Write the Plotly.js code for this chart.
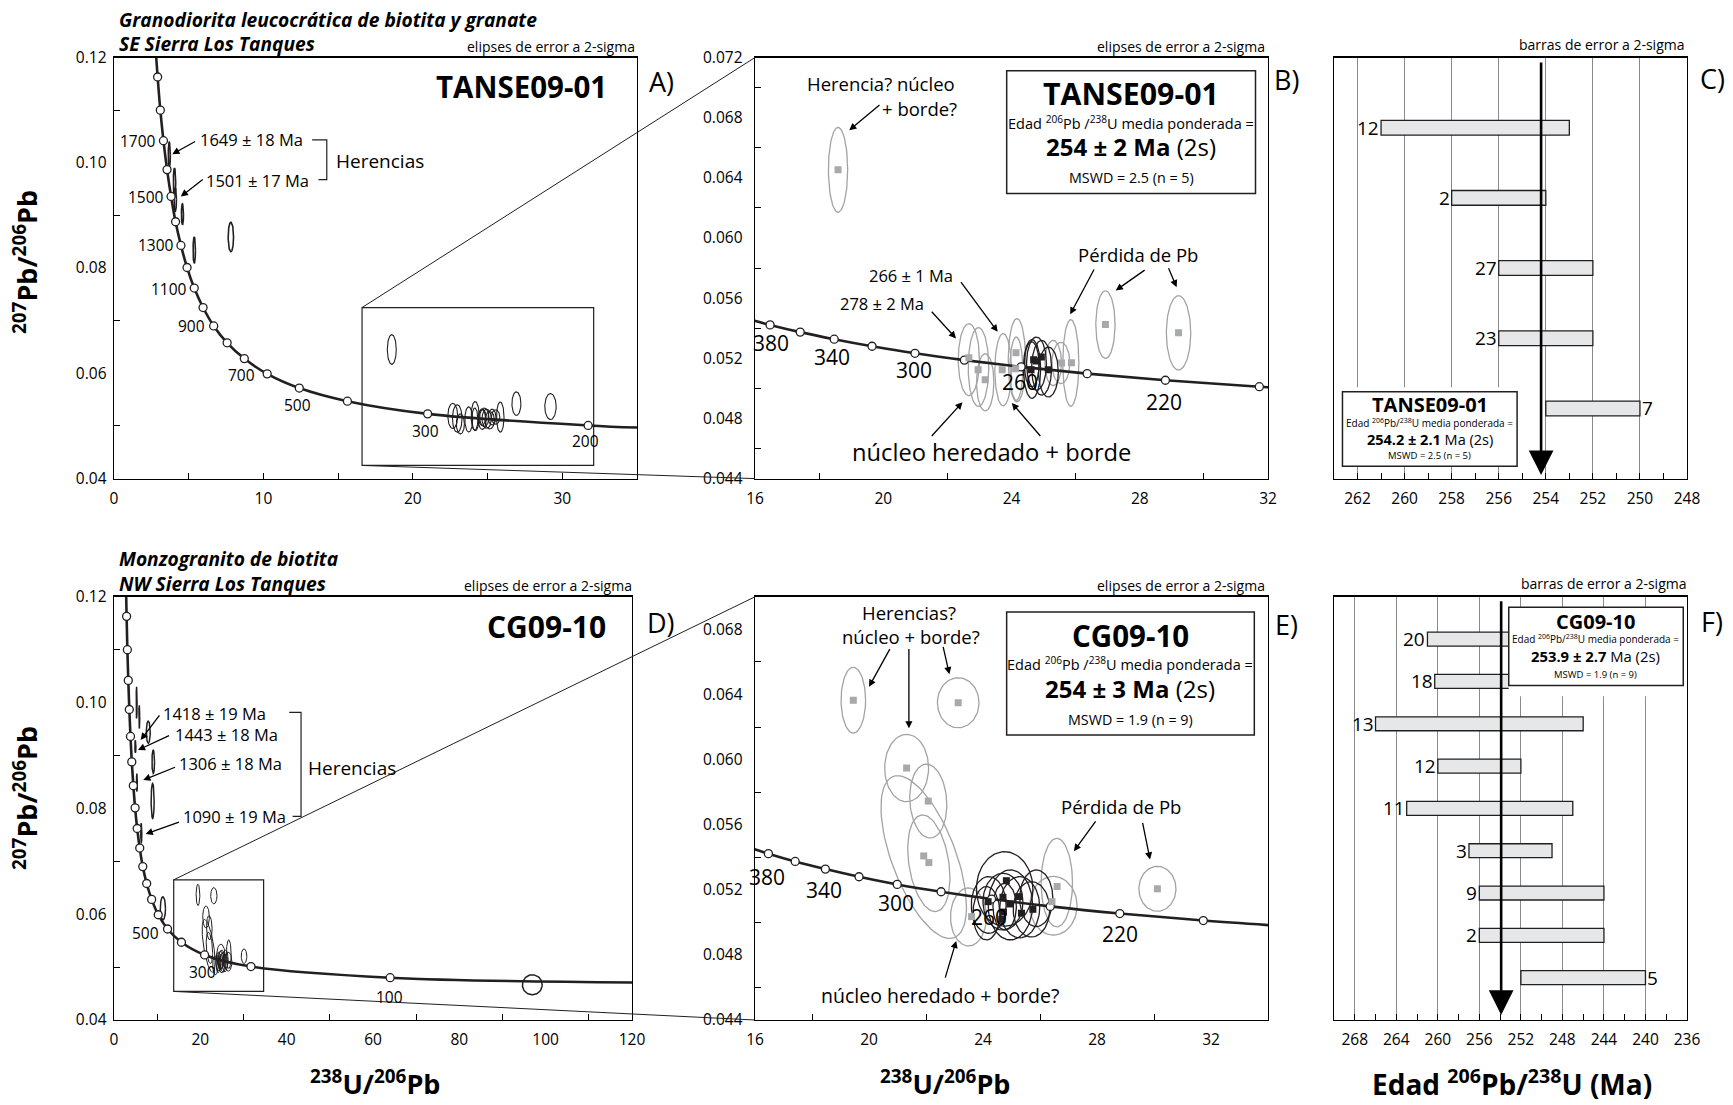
<!DOCTYPE html>
<html><head><meta charset="utf-8">
<script src="https://cdn.plot.ly/plotly-3.0.1.min.js"></script>
<style>html,body{margin:0;padding:0;background:#fff}#chart{width:1733px;height:1105px}</style>
</head><body><div id="chart"></div>
<script>
// ================= DATA =================
// Concordia age marks (Ma) for the full-range diagrams A and D
const concAges = [1900,1800,1700,1600,1500,1400,1300,1200,1100,1000,900,800,700,600,500,400,300,200];
const concX = [2.92,3.10,3.31,3.55,3.82,4.12,4.48,4.89,5.37,5.96,6.67,7.57,8.72,10.25,12.40,15.62,20.99,31.73];
const concY = [0.1163,0.1100,0.1042,0.0987,0.0936,0.0888,0.0843,0.0801,0.0762,0.0725,0.0690,0.0658,0.0628,0.0599,0.0572,0.0547,0.0523,0.0501];
const concTopStart = [2.75, 0.1230];
const concEndA = [35.0, 0.0497];
const conc100 = [63.97, 0.0480];
const concEndD = [120.0, 0.0471];
// Concordia age marks for the zoomed diagrams B and E
const zAges = [380,360,340,320,300,280,260,240,220,200];
const zX = [16.47,17.41,18.47,19.65,20.99,22.53,24.30,26.36,28.80,31.73];
const zY = [0.05422,0.05374,0.05327,0.05280,0.05233,0.05188,0.05143,0.05098,0.05054,0.05011];
const zStart = [15.62, 0.05470];
const zEnd = [35.32, 0.04968];

// TANSE09-01: error ellipses (centre, half-width, half-height, correlation)
const tGreyX  = [18.59,22.67,22.97,23.18,23.74,24.17,24.15,25.30,25.54,25.85,26.93,29.21];
const tGreyY  = [0.06453,0.05191,0.05142,0.05040,0.05124,0.05187,0.05131,0.05169,0.05169,0.05169,0.05424,0.05369];
const tGreySX = [0.30,0.33,0.32,0.27,0.26,0.27,0.20,0.26,0.28,0.25,0.30,0.38];
const tGreySY = [0.00282,0.00239,0.00262,0.00190,0.00240,0.00277,0.00210,0.00150,0.00137,0.00288,0.00225,0.00247];
const tGreyRho= [0,0,0,0,0,0,0,0,0,0,0,0];
const tSqGreyX = [18.59,22.67,22.96,23.18,23.71,24.14,24.13,25.56,25.87,26.93,29.21];
const tSqGreyY = [0.06453,0.05204,0.05124,0.05058,0.05124,0.05237,0.05131,0.05169,0.05171,0.05424,0.05369];
const tBlkX  = [24.64,24.78,24.94,25.15,24.63];
const tBlkY  = [0.05129,0.05164,0.05137,0.05109,0.05160];
const tBlkSX = [0.27,0.31,0.31,0.31,0.23];
const tBlkSY = [0.00195,0.00177,0.00182,0.00166,0.00150];
const tBlkRho= [0,0,0,0,0];
const tSqBlkX = [24.69,24.93,24.61,25.15,24.78];
const tSqBlkY = [0.05191,0.05209,0.05124,0.05124,0.05182];
// TANSE09-01 inherited grains (only in A)
const tInhX  = [3.70,4.05,4.10,4.58,5.37,7.82];
const tInhY  = [0.1015,0.0963,0.0930,0.0902,0.0834,0.0859];
const tInhSX = [0.07,0.08,0.08,0.07,0.08,0.18];
const tInhSY = [0.0024,0.0027,0.0022,0.0020,0.0025,0.0028];
const tInhRho= [0,0,0,0,0,0];

// CG09-10 ellipses (panel E, also in D)
const cGreyX  = [19.45,23.13,21.32,22.08,21.92,22.10,23.49,26.59,26.47,30.12];
const cGreyY  = [0.06365,0.06349,0.05948,0.05745,0.05401,0.05363,0.05033,0.05244,0.05102,0.05206];
const cGreySX = [0.43,0.73,0.77,0.65,1.50,0.74,0.63,0.55,0.83,0.65];
const cGreySY = [0.00202,0.00154,0.00207,0.00227,0.00500,0.00297,0.00178,0.00272,0.00180,0.00138];
const cGreyRho= [0,0,0,-0.1,-0.61,-0.3,0,0,0,0];
const cSqGreyX = [19.45,23.13,21.32,22.08,21.92,22.10,23.60,26.60,26.42,30.12];
const cSqGreyY = [0.06365,0.06349,0.05948,0.05745,0.05408,0.05367,0.05035,0.05220,0.05127,0.05206];
const cBlkX  = [24.76,24.20,24.96,24.70,25.29,25.70,24.76,24.12,25.87];
const cBlkY  = [0.05205,0.05107,0.05107,0.05127,0.05093,0.05080,0.05097,0.05056,0.05148];
const cBlkSX = [0.99,0.61,0.78,0.70,0.70,0.64,0.41,0.47,0.58];
const cBlkSY = [0.00229,0.00174,0.00215,0.00174,0.00188,0.00170,0.00143,0.00164,0.00174];
const cBlkRho= [0,0,0,0,0,0,0,0,0];
const cSqBlkX = [24.18,24.82,24.70,25.25,24.94,25.35,25.75,24.72,24.66];
const cSqBlkY = [0.05127,0.05256,0.05154,0.05158,0.05113,0.05056,0.05080,0.05063,0.05018];
// CG09-10 inherited grains and the young discordant grain (only in D)
const cInhX  = [5.24,5.86,7.94,4.95,9.09,5.30,8.95,6.32,11.33,96.9];
const cInhY  = [0.1000,0.0973,0.0944,0.0917,0.0888,0.0849,0.0814,0.0753,0.0611,0.04665];
const cInhSX = [0.10,0.10,0.45,0.12,0.30,0.10,0.35,0.12,0.60,2.29];
const cInhSY = [0.0030,0.0022,0.0021,0.0012,0.0022,0.0017,0.0033,0.0019,0.0022,0.00189];
const cInhRho= [0,0,0,0,0,0,0,0,0,0];

// Weighted-mean age bars (Ma, 2-sigma)
const cBarLabels = ['12','2','27','23','7'];
const cBarLow    = [253.0,254.0,252.0,252.0,250.0];
const cBarHigh   = [261.0,258.0,256.0,256.0,254.0];
const cMean = 254.2;
const fBarLabels = ['20','18','13','12','11','3','9','2','5'];
const fBarLow    = [252.0,252.3,246.0,252.0,247.0,249.0,244.0,244.0,240.0];
const fBarHigh   = [261.0,260.3,266.0,260.0,263.0,257.0,256.0,256.0,252.0];
const fMean = 253.9;

// Axis ranges and tick values
const rangeA = {x:[0,35], y:[0.04,0.12]};
const rangeB = {x:[16,32], y:[0.044,0.072]};
const rangeC = {x:[263,248], y:[0,6]};
const rangeD = {x:[0,120], y:[0.04,0.12]};
const rangeE = {x:[16,34], y:[0.044,0.070]};
const rangeF = {x:[270,236], y:[0,10]};
const ticksAx = [0,10,20,30], minorAx = [5,15,25];
const ticksAy = [0.04,0.06,0.08,0.10,0.12], minorAy = [0.05,0.07,0.09,0.11];
const ticksBx = [16,20,24,28,32], minorBx = [18,22,26,30];
const ticksBy = [0.044,0.048,0.052,0.056,0.060,0.064,0.068,0.072], minorBy = [0.046,0.050,0.054,0.058,0.062,0.066,0.070];
const ticksCx = [262,260,258,256,254,252,250,248], minorCx = [263,261,259,257,255,253,251,249];
const ticksDx = [0,20,40,60,80,100,120], minorDx = [10,30,50,70,90,110];
const ticksEx = [16,20,24,28,32], minorEx = [18,22,26,30];
const ticksEy = [0.044,0.048,0.052,0.056,0.060,0.064,0.068], minorEy = [0.046,0.050,0.054,0.058,0.062,0.066];
const ticksFx = [268,264,260,256,252,248,244,240,236], minorFx = [266,262,258,254,250,246,242,238];

// ================= DRAWING =================
const W = 1733, H = 1105;
const FONT = '"Open Sans", "Noto Sans", sans-serif';
const GREY = '#a3a3a3', SQGREY = '#a7a9ac', BLK = '#231f20';
const PX = v => v / W, PY = v => 1 - v / H;
const colX = {a:[114,637], b:[755,1268], c:[1334,1687], d:[114,632]};
const rowY = {top:[57.5,478.6], bot:[596.8,1020]};

function ellipses(cx, cy, sx, sy, rho, color, width, xa, ya) {
  const X = [], Y = [];
  for (let k = 0; k < cx.length; k++) {
    const s = Math.sqrt(1 - rho[k]*rho[k]);
    for (let i = 0; i <= 90; i++) {
      const t = 2*Math.PI*i/90;
      X.push(cx[k] + sx[k]*Math.cos(t));
      Y.push(cy[k] + sy[k]*(rho[k]*Math.cos(t) + s*Math.sin(t)));
    }
    X.push(null); Y.push(null);
  }
  return {type:'scatter', mode:'lines', x:X, y:Y, xaxis:xa, yaxis:ya, line:{color, width}, hoverinfo:'skip', showlegend:false, connectgaps:false};
}
function line(xs, ys, xa, ya) {
  return {type:'scatter', mode:'lines', x:xs, y:ys, xaxis:xa, yaxis:ya, line:{color:BLK, width:2.6, shape:'spline', smoothing:1}, hoverinfo:'skip', showlegend:false};
}
function circles(xs, ys, xa, ya) {
  return {type:'scatter', mode:'markers', x:xs, y:ys, xaxis:xa, yaxis:ya, marker:{symbol:'circle', size:8, color:'#fff', line:{color:BLK, width:1.3}}, hoverinfo:'skip', showlegend:false, cliponaxis:true};
}
function squares(xs, ys, color, xa, ya) {
  return {type:'scatter', mode:'markers', x:xs, y:ys, xaxis:xa, yaxis:ya, marker:{symbol:'square', size:7, color, line:{width:0}}, hoverinfo:'skip', showlegend:false};
}
function bars(low, high, n, width, xa, ya) {
  return {type:'bar', orientation:'h', base:low, x:high.map((h,i)=>h-low[i]), y:low.map((_,i)=>n-i), width:width,
          xaxis:xa, yaxis:ya, marker:{color:'#e6e7e8', line:{color:BLK, width:1.3}}, hoverinfo:'skip', showlegend:false};
}

const traces = [];
// ---- Panel A
traces.push(ellipses(tInhX,tInhY,tInhSX,tInhSY,tInhRho,BLK,1.6,'x','y'));
traces.push(ellipses(tGreyX,tGreyY,tGreySX,tGreySY,tGreyRho,BLK,1.1,'x','y'));
traces.push(ellipses(tBlkX,tBlkY,tBlkSX,tBlkSY,tBlkRho,BLK,1.1,'x','y'));
traces.push(line([concTopStart[0],...concX,concEndA[0]],[concTopStart[1],...concY,concEndA[1]],'x','y'));
traces.push(circles(concX,concY,'x','y'));
// ---- Panel B
traces.push(ellipses(tGreyX,tGreyY,tGreySX,tGreySY,tGreyRho,GREY,1.3,'x2','y2'));
traces.push(ellipses(tBlkX,tBlkY,tBlkSX,tBlkSY,tBlkRho,BLK,1.3,'x2','y2'));
traces.push(line([zStart[0],...zX,zEnd[0]],[zStart[1],...zY,zEnd[1]],'x2','y2'));
traces.push(circles(zX,zY,'x2','y2'));
traces.push(squares(tSqGreyX,tSqGreyY,SQGREY,'x2','y2'));
traces.push(squares(tSqBlkX,tSqBlkY,BLK,'x2','y2'));
// ---- Panel C
traces.push(bars(cBarLow,cBarHigh,cBarLow.length,0.21,'x3','y3'));
// ---- Panel D
traces.push(ellipses(cInhX,cInhY,cInhSX,cInhSY,cInhRho,BLK,1.5,'x4','y4'));
traces.push(ellipses(cGreyX,cGreyY,cGreySX,cGreySY,cGreyRho,BLK,1.0,'x4','y4'));
traces.push(ellipses(cBlkX,cBlkY,cBlkSX,cBlkSY,cBlkRho,BLK,1.0,'x4','y4'));
traces.push(line([concTopStart[0],...concX,conc100[0],concEndD[0]],[concTopStart[1],...concY,conc100[1],concEndD[1]],'x4','y4'));
traces.push(circles([...concX,conc100[0]],[...concY,conc100[1]],'x4','y4'));
// ---- Panel E
traces.push(ellipses(cGreyX,cGreyY,cGreySX,cGreySY,cGreyRho,GREY,1.3,'x5','y5'));
traces.push(ellipses(cBlkX,cBlkY,cBlkSX,cBlkSY,cBlkRho,BLK,1.3,'x5','y5'));
traces.push(line([zStart[0],...zX,zEnd[0]],[zStart[1],...zY,zEnd[1]],'x5','y5'));
traces.push(circles(zX,zY,'x5','y5'));
traces.push(squares(cSqGreyX,cSqGreyY,SQGREY,'x5','y5'));
traces.push(squares(cSqBlkX,cSqBlkY,BLK,'x5','y5'));
// ---- Panel F
traces.push(bars(fBarLow,fBarHigh,fBarLow.length,0.33,'x6','y6'));

// ---- axes
function ax(extra) {
  return Object.assign({showline:true, linecolor:'#000', linewidth:1.4, mirror:true, zeroline:false, showgrid:false,
    ticks:'inside', ticklen:6, tickwidth:1, tickcolor:'#000', layer:'above traces', fixedrange:true,
    tickfont:{family:FONT, size:15.5, color:'#000'}, tickmode:'array'}, extra);
}
function minor(vals){ return {tickmode:'array', tickvals:vals, ticks:'inside', ticklen:6, tickwidth:1, tickcolor:'#000', showgrid:false}; }
const dom = (p)=>[PX(p[0]),PX(p[1])];
const domY = (p)=>[PY(p[1]),PY(p[0])];

const layout = {
  width:W, height:H, margin:{l:0,r:0,t:0,b:0}, paper_bgcolor:'#fff', plot_bgcolor:'rgba(0,0,0,0)',
  showlegend:false, bargap:0,
  font:{family:FONT, color:'#000'},
  xaxis: ax({domain:dom(colX.a), range:rangeA.x, anchor:'y', tickvals:ticksAx, minor:minor(minorAx), ticklabelstandoff:5}),
  yaxis: ax({domain:domY(rowY.top), range:rangeA.y, anchor:'x', tickvals:ticksAy, tickformat:'.2f', minor:minor(minorAy), ticks:'', ticklabelstandoff:3}),
  xaxis2: ax({domain:dom(colX.b), range:rangeB.x, anchor:'y2', tickvals:ticksBx, minor:minor(minorBx), ticks:'', ticklabelstandoff:5}),
  yaxis2: ax({domain:domY(rowY.top), range:rangeB.y, anchor:'x2', tickvals:ticksBy, tickformat:'.3f', minor:minor(minorBy), ticks:'', ticklabelstandoff:8}),
  xaxis3: ax({domain:dom(colX.c), range:rangeC.x, anchor:'y3', tickvals:ticksCx, minor:minor(minorCx), showgrid:true, gridcolor:'#8a8a8a', gridwidth:1, ticklabelstandoff:5}),
  yaxis3: ax({domain:domY(rowY.top), range:rangeC.y, anchor:'x3', ticks:'', showticklabels:false}),
  xaxis4: ax({domain:dom(colX.d), range:rangeD.x, anchor:'y4', tickvals:ticksDx, minor:minor(minorDx), ticks:'', ticklabelstandoff:5}),
  yaxis4: ax({domain:domY(rowY.bot), range:rangeD.y, anchor:'x4', tickvals:ticksAy, tickformat:'.2f', minor:minor(minorAy), ticks:'', ticklabelstandoff:3}),
  xaxis5: ax({domain:dom(colX.b), range:rangeE.x, anchor:'y5', tickvals:ticksEx, minor:minor(minorEx), ticks:'', ticklabelstandoff:5}),
  yaxis5: ax({domain:domY(rowY.bot), range:rangeE.y, anchor:'x5', tickvals:ticksEy, tickformat:'.3f', minor:minor(minorEy), ticks:'', ticklabelstandoff:8}),
  xaxis6: ax({domain:dom(colX.c), range:rangeF.x, anchor:'y6', tickvals:ticksFx, minor:minor(minorFx), showgrid:true, gridcolor:'#8a8a8a', gridwidth:1, ticklabelstandoff:5}),
  yaxis6: ax({domain:domY(rowY.bot), range:rangeF.y, anchor:'x6', ticks:'', showticklabels:false}),
};

// data -> paper helper (same linear map the axes use)
function toPaper(xa, ya, x, y) {
  const X = layout[xa], Y = layout[ya];
  const fx = (x - X.range[0]) / (X.range[1] - X.range[0]);
  const fy = (y - Y.range[0]) / (Y.range[1] - Y.range[0]);
  return [X.domain[0] + fx*(X.domain[1]-X.domain[0]), Y.domain[0] + fy*(Y.domain[1]-Y.domain[0])];
}

// ---- annotations
const ann = [];
function T(xref, yref, x, y, text, size, o) {
  ann.push(Object.assign({xref, yref, x, y, text, showarrow:false, font:{family:FONT, size, color:'#000'}, xanchor:'center', yanchor:'middle', borderpad:0}, o||{}));
}
function AR(xref, yref, hx, hy, tx, ty, o) {
  ann.push(Object.assign({xref, yref, axref:xref, ayref:yref, x:hx, y:hy, ax:tx, ay:ty, text:'', showarrow:true,
    arrowhead:2, arrowsize:1.1, arrowwidth:1.3, arrowcolor:'#000', standoff:0}, o||{}));
}
function TP(px, py, text, size, o) { T('paper','paper',PX(px),PY(py),text,size,o); }

// sample titles
TP(118, 19, '<b><i>Granodiorita leucocrática de biotita y granate</i></b>', 19.2, {xanchor:'left'});
TP(118, 44, '<b><i>SE Sierra Los Tanques</i></b>', 19.2, {xanchor:'left'});
TP(118, 558, '<b><i>Monzogranito de biotita</i></b>', 19.2, {xanchor:'left'});
TP(118, 583, '<b><i>NW Sierra Los Tanques</i></b>', 19.2, {xanchor:'left'});
// error notes
TP(636, 47, 'elipses de error a 2-sigma', 14, {xanchor:'right'});
TP(1266, 47, 'elipses de error a 2-sigma', 14, {xanchor:'right'});
TP(1686, 45, 'barras de error a 2-sigma', 14, {xanchor:'right'});
TP(633, 585, 'elipses de error a 2-sigma', 14, {xanchor:'right'});
TP(1266, 585, 'elipses de error a 2-sigma', 14, {xanchor:'right'});
TP(1688, 583, 'barras de error a 2-sigma', 14, {xanchor:'right'});
// panel letters
TP(661, 82, 'A)', 27); TP(1286, 80, 'B)', 27); TP(1712, 79, 'C)', 27);
TP(661, 622, 'D)', 27); TP(1286, 624, 'E)', 27); TP(1712, 621, 'F)', 27);
// axis titles
TP(25, 262, '<b><sup>207</sup>Pb/<sup>206</sup>Pb</b>', 27, {textangle:-90});
TP(25, 798, '<b><sup>207</sup>Pb/<sup>206</sup>Pb</b>', 27, {textangle:-90});
TP(375, 1082, '<b><sup>238</sup>U/<sup>206</sup>Pb</b>', 27);
TP(945, 1082, '<b><sup>238</sup>U/<sup>206</sup>Pb</b>', 27);
TP(1512, 1082, '<b>Edad <sup>206</sup>Pb/<sup>238</sup>U (Ma)</b>', 28);

// ---- Panel A texts
T('x','y',33.06,0.1144,'<b>TANSE09-01</b>',29.5,{xanchor:'right'});
[['1700',1.60,0.1042],['1500',2.16,0.0935],['1300',2.78,0.0843],['1100',3.71,0.0760],['900',5.17,0.0690],
 ['700',8.54,0.0596],['500',12.28,0.0540],['300',20.84,0.0491],['200',31.52,0.0472]]
 .forEach(a=>T('x','y',a[1],a[2],a[0],15.5));
T('x','y',5.67,0.10434,'1649 ± 18 Ma',16.5,{xanchor:'left'});
T('x','y',6.10,0.0966,'1501 ± 17 Ma',16.5,{xanchor:'left'});
AR('x','y',3.90,0.10163,5.53,0.1042);
AR('x','y',4.47,0.09358,6.04,0.09704);
T('x','y',14.8,0.10025,'Herencias',19,{xanchor:'left'});
// ---- Panel B texts
T('x2','y2',19.92,0.07024,'Herencia? núcleo',18.5);
T('x2','y2',21.14,0.0686,'+ borde?',18.5);
AR('x2','y2',18.94,0.06716,19.93,0.06892);
T('x2','y2',27.73,0.06958,'<b>TANSE09-01</b>',30.3);
T('x2','y2',27.73,0.06771,'Edad <sup>206</sup>Pb /<sup>238</sup>U media ponderada =',14.5);
T('x2','y2',27.73,0.06607,'<b>254 ± 2 Ma</b> (2s)',24);
T('x2','y2',27.73,0.06404,'MSWD = 2.5 (n = 5)',14.3);
T('x2','y2',27.94,0.05892,'Pérdida de Pb',18.5);
AR('x2','y2',25.83,0.05492,26.60,0.05800);
AR('x2','y2',27.25,0.05651,28.20,0.05793);
AR('x2','y2',29.15,0.05673,28.88,0.05809);
T('x2','y2',20.88,0.0575,'266 ± 1 Ma',16.5);
AR('x2','y2',23.57,0.05376,22.39,0.05717);
T('x2','y2',19.95,0.05563,'278 ± 2 Ma',16.5);
AR('x2','y2',22.27,0.05332,21.47,0.05519);
T('x2','y2',23.39,0.04574,'núcleo heredado + borde',23.7);
AR('x2','y2',22.47,0.04908,21.47,0.04673);
AR('x2','y2',24.01,0.04903,24.94,0.04673);
[['380',16.51,0.0530],['340',18.41,0.0521],['300',20.96,0.0512],['260',24.26,0.0504],['220',28.76,0.0491]]
 .forEach(a=>T('x2','y2',a[1],a[2],a[0],21));
// ---- Panel C texts
cBarLabels.forEach((lab,i)=>{
  const yv = cBarLabels.length - i;
  if (i === cBarLabels.length-1) T('x3','y3',cBarLow[i],yv,lab,19,{xanchor:'left',xshift:1});
  else T('x3','y3',cBarHigh[i],yv,lab,19,{xanchor:'right',xshift:-1});
});
T('x3','y3',258.93,1.05,'<b>TANSE09-01</b>',20);
T('x3','y3',258.93,0.79,'Edad <sup>206</sup>Pb/<sup>238</sup>U media ponderada =',10);
T('x3','y3',258.93,0.555,'<b>254.2 ± 2.1</b> Ma (2s)',14.5);
T('x3','y3',258.93,0.33,'MSWD = 2.5 (n = 5)',9.5);
AR('x3','y3',cMean,0.05,cMean,5.95,{arrowwidth:2.6,arrowsize:1.9,arrowhead:2});
// ---- Panel D texts
T('x4','y4',114.3,0.1144,'<b>CG09-10</b>',30,{xanchor:'right'});
[['500',7.40,0.0565],['300',20.45,0.0490],['100',63.88,0.0444]].forEach(a=>T('x4','y4',a[1],a[2],a[0],15.5));
T('x4','y4',11.17,0.0980,'1418 ± 19 Ma',16.5,{xanchor:'left'});
T('x4','y4',13.87,0.0940,'1443 ± 18 Ma',16.5,{xanchor:'left'});
T('x4','y4',14.80,0.0885,'1306 ± 18 Ma',16.5,{xanchor:'left'});
T('x4','y4',15.65,0.0784,'1090 ± 19 Ma',16.5,{xanchor:'left'});
AR('x4','y4',6.17,0.09293,10.79,0.09785);
AR('x4','y4',5.55,0.09104,13.10,0.09388);
AR('x4','y4',6.78,0.08537,14.49,0.08789);
AR('x4','y4',7.33,0.07516,15.40,0.07749);
T('x4','y4',44.8,0.0877,'Herencias',19,{xanchor:'left'});
// ---- Panel E texts
T('x5','y5',21.40,0.06906,'Herencias?',18.5);
T('x5','y5',21.46,0.06757,'núcleo + borde?',18.5);
AR('x5','y5',20.00,0.06447,20.76,0.06688);
AR('x5','y5',21.40,0.06192,21.40,0.06688);
AR('x5','y5',22.82,0.06524,22.59,0.06702);
T('x5','y5',29.17,0.06763,'<b>CG09-10</b>',29.5);
T('x5','y5',29.17,0.06590,'Edad <sup>206</sup>Pb /<sup>238</sup>U media ponderada =',14.5);
T('x5','y5',29.17,0.06437,'<b>254 ± 3 Ma</b> (2s)',24);
T('x5','y5',29.17,0.06247,'MSWD = 1.9 (n = 9)',14.3);
T('x5','y5',28.83,0.05712,'Pérdida de Pb',18.5);
AR('x5','y5',27.19,0.05437,27.99,0.05630);
AR('x5','y5',29.86,0.05386,29.59,0.05620);
T('x5','y5',22.49,0.04549,'núcleo heredado + borde?',19.5);
AR('x5','y5',23.06,0.04886,22.66,0.04651);
[['380',16.43,0.0528],['340',18.42,0.0520],['300',20.96,0.0512],['260',24.22,0.0503],['220',28.79,0.0493]]
 .forEach(a=>T('x5','y5',a[1],a[2],a[0],21));
// ---- Panel F texts
fBarLabels.forEach((lab,i)=>{
  const yv = fBarLabels.length - i;
  if (i === fBarLabels.length-1) T('x6','y6',fBarLow[i],yv,lab,19,{xanchor:'left',xshift:1});
  else T('x6','y6',fBarHigh[i],yv,lab,19,{xanchor:'right',xshift:-1});
});
T('x6','y6',244.8,9.42,'<b>CG09-10</b>',20);
T('x6','y6',244.8,9.00,'Edad <sup>206</sup>Pb/<sup>238</sup>U media ponderada =',10);
T('x6','y6',244.8,8.60,'<b>253.9 ± 2.7</b> Ma (2s)',14.8);
T('x6','y6',244.8,8.17,'MSWD = 1.9 (n = 9)',9.5);
AR('x6','y6',fMean,0.12,fMean,9.93,{arrowwidth:2.6,arrowsize:1.9,arrowhead:2});

layout.annotations = ann;

// ---- shapes: inset frames, connectors, brackets, text boxes
const insetA = {x0:16.6, x1:32.1, y0:0.0425, y1:0.0725};
const insetD = {x0:13.83, x1:34.66, y0:0.0454, y1:0.0665};
const shapes = [];
shapes.push({type:'rect', xref:'x', yref:'y', x0:insetA.x0, x1:insetA.x1, y0:insetA.y0, y1:insetA.y1, line:{color:BLK,width:1.2}, layer:'above'});
shapes.push({type:'rect', xref:'x4', yref:'y4', x0:insetD.x0, x1:insetD.x1, y0:insetD.y0, y1:insetD.y1, line:{color:BLK,width:1.2}, layer:'above'});
function connector(a, b) {
  shapes.push({type:'line', xref:'paper', yref:'paper', x0:a[0], y0:a[1], x1:b[0], y1:b[1], line:{color:BLK,width:1}, layer:'above'});
}
connector(toPaper('xaxis','yaxis',insetA.x0,insetA.y1), toPaper('xaxis2','yaxis2',rangeB.x[0],rangeB.y[1]));
connector(toPaper('xaxis','yaxis',insetA.x0,insetA.y0), toPaper('xaxis2','yaxis2',rangeB.x[0],rangeB.y[0]));
connector(toPaper('xaxis4','yaxis4',insetD.x0,insetD.y1), toPaper('xaxis5','yaxis5',rangeE.x[0],rangeE.y[1]));
connector(toPaper('xaxis4','yaxis4',insetD.x0,insetD.y0), toPaper('xaxis5','yaxis5',rangeE.x[0],rangeE.y[0]));
// "Herencias" brackets
shapes.push({type:'path', xref:'x', yref:'y', path:'M 13.26 0.10434 L 14.24 0.10434 L 14.24 0.0968 L 13.68 0.0968', line:{color:BLK,width:1.2}, layer:'above'});
shapes.push({type:'path', xref:'x4', yref:'y4', path:'M 40.6 0.09814 L 43.33 0.09814 L 43.33 0.07848 L 41.38 0.07848', line:{color:BLK,width:1.2}, layer:'above'});
// result boxes
shapes.push({type:'rect', xref:'x2', yref:'y2', x0:23.85, x1:31.61, y0:0.06295, y1:0.07112, fillcolor:'#fff', line:{color:BLK,width:1.5}, layer:'above'});
shapes.push({type:'rect', xref:'x5', yref:'y5', x0:24.83, x1:33.52, y0:0.06151, y1:0.06906, fillcolor:'#fff', line:{color:BLK,width:1.5}, layer:'above'});
shapes.push({type:'rect', xref:'x3', yref:'y3', x0:262.64, x1:255.22, y0:0.175, y1:1.30, fillcolor:'#fff', line:{width:0}, layer:'above'});
shapes.push({type:'rect', xref:'x3', yref:'y3', x0:262.64, x1:255.22, y0:0.175, y1:1.236, fillcolor:'#fff', line:{color:BLK,width:1.5}, layer:'above'});
shapes.push({type:'rect', xref:'x6', yref:'y6', x0:253.17, x1:236.36, y0:7.65, y1:9.76, fillcolor:'#fff', line:{width:0}, layer:'above'});
shapes.push({type:'rect', xref:'x6', yref:'y6', x0:253.17, x1:236.36, y0:7.905, y1:9.756, fillcolor:'#fff', line:{color:BLK,width:1.5}, layer:'above'});
layout.shapes = shapes;

Plotly.newPlot('chart', traces, layout, {displayModeBar:false, responsive:false, staticPlot:true});
</script></body></html>
